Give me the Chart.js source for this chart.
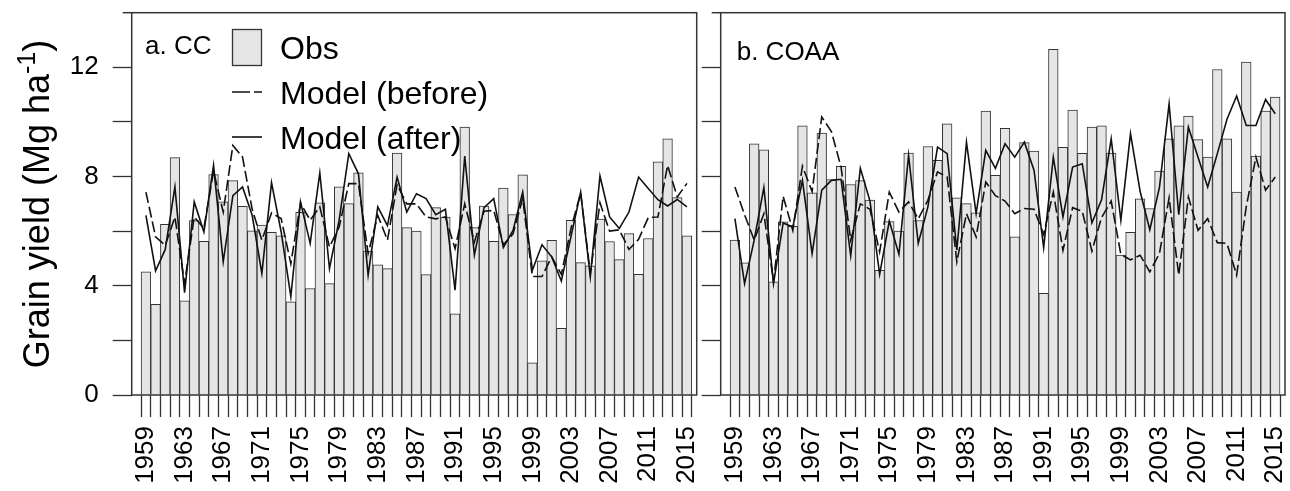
<!DOCTYPE html>
<html>
<head>
<meta charset="utf-8">
<title>Grain yield, CC and COAA</title>
<script src="https://cdn.jsdelivr.net/npm/chart.js@4.4.1/dist/chart.umd.min.js"></script>
<style>
  html, body { margin: 0; padding: 0; background: #fff; }
  #wrap { position: relative; width: 1290px; height: 491px; overflow: hidden; }
  canvas { position: absolute; top: 0; }
  #chartCC { left: 0; }
  #chartCOAA { left: 700px; }
</style>
</head>
<body>
<div id="wrap">
  <canvas id="chartCC" width="700" height="491"></canvas>
  <canvas id="chartCOAA" width="590" height="491"></canvas>
</div>
<script>
const years = [
  1959, 1960, 1961, 1962, 1963, 1964, 1965, 1966, 1967, 1968,
  1969, 1970, 1971, 1972, 1973, 1974, 1975, 1976, 1977, 1978,
  1979, 1980, 1981, 1982, 1983, 1984, 1985, 1986, 1987, 1988,
  1989, 1990, 1991, 1992, 1993, 1994, 1995, 1996, 1997, 1998,
  1999, 2000, 2001, 2002, 2003, 2004, 2005, 2006, 2007, 2008,
  2009, 2010, 2011, 2012, 2013, 2014, 2015
];
const xLabelYears = [1959, 1963, 1967, 1971, 1975, 1979, 1983, 1987, 1991, 1995, 1999, 2003, 2007, 2011, 2015];
const yTicks = [0, 2, 4, 6, 8, 10, 12];
const yTickLabels = [0, 4, 8, 12];

// a. CC
const obsCC = [
  4.51, 3.32, 6.25, 8.69, 3.45, 6.39, 5.63, 8.07, 7.07, 7.85,
  6.91, 6.01, 6.22, 5.96, 5.83, 3.41, 6.69, 3.90, 7.04, 4.08,
  7.62, 7.01, 8.14, 5.27, 4.77, 4.63, 8.86, 6.13, 6.00, 4.41,
  6.86, 6.52, 2.97, 9.81, 6.13, 6.92, 5.63, 7.58, 6.61, 8.06,
  1.18, 4.91, 5.66, 2.44, 6.40, 4.85, 4.73, 6.44, 5.62, 4.96,
  5.91, 4.42, 5.73, 8.54, 9.38, 7.23, 5.83
];
const beforeCC = [
  7.43, 5.79, 5.48, 6.52, 4.08, 6.52, 6.10, 8.20, 6.70, 9.14,
  8.71, 6.80, 5.67, 6.67, 6.46, 4.81, 7.03, 6.40, 6.89, 5.42,
  6.15, 7.74, 7.74, 5.18, 6.58, 5.67, 7.70, 7.00, 7.00, 6.52,
  6.45, 6.52, 5.36, 7.00, 5.60, 6.73, 6.76, 5.50, 5.90, 7.20,
  4.34, 4.34, 5.06, 4.42, 6.10, 7.40, 4.45, 7.04, 6.00, 6.05,
  5.33, 5.70, 6.50, 6.52, 8.41, 7.25, 7.75
];
const afterCC = [
  6.58, 4.55, 5.33, 7.62, 3.75, 7.07, 5.97, 8.41, 4.88, 7.30,
  7.62, 6.58, 4.45, 7.78, 5.97, 3.60, 7.07, 5.55, 8.13, 4.63,
  6.40, 8.84, 8.10, 4.39, 6.89, 6.20, 7.98, 6.70, 7.37, 7.19,
  6.60, 6.80, 3.84, 8.75, 5.12, 6.86, 7.19, 5.40, 6.03, 7.43,
  4.57, 5.50, 5.06, 4.17, 5.80, 7.43, 4.33, 8.02, 6.52, 6.10,
  6.70, 7.98, 7.56, 7.15, 6.92, 7.16, 6.89
];

// b. COAA
const obsCOAA = [
  5.67, 4.84, 9.20, 8.98, 4.14, 6.34, 6.18, 9.86, 7.40, 9.59,
  7.89, 8.37, 7.71, 7.85, 7.14, 4.57, 6.35, 6.00, 8.86, 6.39,
  9.10, 8.59, 9.93, 7.22, 7.01, 6.67, 10.40, 8.04, 9.77, 5.79,
  9.24, 8.93, 3.72, 12.66, 9.07, 10.43, 8.85, 9.81, 9.86, 8.86,
  5.12, 5.96, 7.18, 6.83, 8.20, 9.38, 9.86, 10.21, 9.35, 8.71,
  11.92, 9.38, 7.43, 12.19, 8.75, 10.40, 10.91
];
const beforeCOAA = [
  7.62, 6.60, 5.67, 6.64, 4.15, 7.28, 6.03, 8.38, 7.45, 10.18,
  9.65, 8.35, 5.67, 7.00, 6.80, 5.24, 7.43, 6.70, 7.07, 6.45,
  7.13, 8.17, 7.98, 4.88, 6.64, 5.79, 7.80, 7.30, 7.10, 6.64,
  6.83, 6.80, 5.88, 7.43, 5.30, 6.86, 6.73, 5.27, 6.50, 7.10,
  5.15, 4.95, 5.12, 4.51, 5.18, 7.22, 4.39, 7.25, 6.03, 6.46,
  5.58, 5.55, 4.39, 6.90, 8.71, 7.50, 7.98
];
const afterCOAA = [
  6.46, 4.08, 5.67, 7.60, 4.08, 6.30, 6.15, 7.86, 5.18, 7.50,
  7.86, 7.90, 5.10, 8.30, 7.10, 4.42, 6.37, 5.15, 8.78, 5.55,
  6.89, 9.08, 8.84, 5.30, 9.26, 6.64, 8.96, 8.30, 9.20, 8.71,
  9.26, 8.23, 5.40, 8.71, 6.52, 8.35, 8.47, 6.30, 7.15, 9.38,
  6.40, 9.57, 7.45, 6.05, 7.60, 10.66, 6.60, 9.81, 8.71, 7.62,
  8.84, 10.10, 10.95, 9.87, 9.87, 10.82, 10.30
];

const FONT = "'Liberation Sans', Arial, Helvetica, sans-serif";
const INK = "#000";
const EDGE = "#333";
const BAR_FILL = "#e5e5e5";
const DASH = [11, 4];

const toXY = (vals) => vals.map((v, i) => ({ x: years[i], y: v }));

// scales must not push the plot area around; it is set by layout padding only
const noScalePadding = (s) => {
  s.paddingLeft = 0;
  s.paddingRight = 0;
  s.paddingTop = 0;
  s.paddingBottom = 0;
};

// box round the plot area, plus the panel label
function framePlugin(label, labelX, labelY) {
  return {
    id: "frame",
    afterDraw(chart) {
      const { ctx, chartArea: a } = chart;
      ctx.save();
      ctx.strokeStyle = EDGE;
      ctx.lineWidth = 1.5;
      ctx.strokeRect(a.left, a.top, a.right - a.left, a.bottom - a.top);
      // top edge runs a little past the left side
      ctx.beginPath();
      ctx.moveTo(a.left - 9, a.top);
      ctx.lineTo(a.left, a.top);
      ctx.stroke();
      ctx.fillStyle = INK;
      ctx.font = "26px " + FONT;
      ctx.textBaseline = "alphabetic";
      ctx.textAlign = "left";
      ctx.fillText(label, labelX, labelY);
      ctx.restore();
    },
  };
}

// legend and y-axis title, only on the CC panel
const legendPlugin = {
  id: "legendAndTitle",
  afterDraw(chart) {
    const ctx = chart.ctx;
    ctx.save();

    ctx.fillStyle = BAR_FILL;
    ctx.fillRect(232.5, 29.5, 29, 36);
    ctx.strokeStyle = EDGE;
    ctx.lineWidth = 1.3;
    ctx.strokeRect(232.5, 29.5, 29, 36);

    ctx.strokeStyle = "#111";
    ctx.lineWidth = 1.6;
    ctx.setLineDash([18, 4]);
    ctx.beginPath();
    ctx.moveTo(232, 92);
    ctx.lineTo(262, 92);
    ctx.stroke();
    ctx.setLineDash([]);
    ctx.beginPath();
    ctx.moveTo(232, 137);
    ctx.lineTo(262, 137);
    ctx.stroke();

    ctx.fillStyle = INK;
    ctx.font = "32px " + FONT;
    ctx.textAlign = "left";
    ctx.textBaseline = "alphabetic";
    ctx.fillText("Obs", 280, 59);
    ctx.fillText("Model (before)", 280, 103.8);
    ctx.fillText("Model (after)", 280, 148.8);

    // Grain yield (Mg ha^-1), rotated
    const main = "Grain yield (Mg ha";
    const sup = "-1";
    const close = ")";
    const big = "36px " + FONT;
    const small = "25px " + FONT;
    ctx.font = big;
    const wMain = ctx.measureText(main).width;
    const wClose = ctx.measureText(close).width;
    ctx.font = small;
    const wSup = ctx.measureText(sup).width;
    const total = wMain + wSup + wClose;
    ctx.translate(49, 204);
    ctx.rotate(-Math.PI / 2);
    let x = -total / 2;
    ctx.font = big;
    ctx.fillText(main, x, 0);
    x += wMain;
    ctx.font = small;
    ctx.fillText(sup, x, -14);
    x += wSup;
    ctx.font = big;
    ctx.fillText(close, x, 0);

    ctx.restore();
  },
};

function makePanel(canvasId, obs, before, after, opts) {
  const ctx = document.getElementById(canvasId).getContext("2d");
  const plugins = [framePlugin(opts.label, opts.labelX, opts.labelY)];
  if (opts.extra) plugins.push(opts.extra);

  return new Chart(ctx, {
    type: "bar",
    data: {
      datasets: [
        {
          type: "bar",
          label: "Obs",
          data: toXY(obs),
          backgroundColor: BAR_FILL,
          borderColor: EDGE,
          borderWidth: 1,
          barPercentage: 1,
          categoryPercentage: 1,
          order: 3,
        },
        {
          type: "line",
          label: "Model (before)",
          data: toXY(before),
          borderColor: "#111",
          borderWidth: 1.6,
          borderDash: DASH,
          pointRadius: 0,
          tension: 0,
          order: 2,
        },
        {
          type: "line",
          label: "Model (after)",
          data: toXY(after),
          borderColor: "#111",
          borderWidth: 1.6,
          pointRadius: 0,
          tension: 0,
          order: 1,
        },
      ],
    },
    options: {
      responsive: false,
      animation: false,
      events: [],
      layout: { padding: { top: 12.7, right: opts.padRight, left: 0, bottom: 0 } },
      plugins: { legend: { display: false }, tooltip: { enabled: false } },
      scales: {
        x: {
          type: "linear",
          min: 1958.04,
          max: 2015.5,
          afterBuildTicks: (s) => {
            s.ticks = years.map((v) => ({ value: v }));
          },
          afterFit: (s) => {
            s.height = 96;
            noScalePadding(s);
          },
          grid: {
            drawOnChartArea: false,
            drawTicks: true,
            tickLength: 22,
            tickColor: EDGE,
            tickWidth: 1.3,
          },
          border: { display: false },
          ticks: {
            autoSkip: false,
            minRotation: 90,
            maxRotation: 90,
            padding: 9,
            color: INK,
            font: { family: FONT, size: 26 },
            callback: (v) => (xLabelYears.includes(v) ? String(v) : ""),
          },
        },
        y: {
          min: 0,
          max: 14,
          afterBuildTicks: (s) => {
            s.ticks = yTicks.map((v) => ({ value: v }));
          },
          afterFit: (s) => {
            s.width = opts.yWidth;
            noScalePadding(s);
          },
          grid: {
            drawOnChartArea: false,
            drawTicks: true,
            tickLength: 19,
            tickColor: EDGE,
            tickWidth: 1.3,
          },
          border: { display: false },
          ticks: {
            padding: 14,
            color: INK,
            font: { family: FONT, size: 26 },
            callback: (v) => (opts.yLabels && yTickLabels.includes(v) ? String(v) : ""),
          },
        },
      },
    },
    plugins: plugins,
  });
}

document.addEventListener("DOMContentLoaded", () => {
  makePanel("chartCC", obsCC, beforeCC, afterCC, {
    label: "a. CC",
    labelX: 145,
    labelY: 53.5,
    padRight: 3.3,
    yWidth: 131.7,
    yLabels: true,
    extra: legendPlugin,
  });
  makePanel("chartCOAA", obsCOAA, beforeCOAA, afterCOAA, {
    label: "b. COAA",
    labelX: 36.7,
    labelY: 60,
    padRight: 5,
    yWidth: 20.7,
    yLabels: false,
  });
});
</script>
</body>
</html>
